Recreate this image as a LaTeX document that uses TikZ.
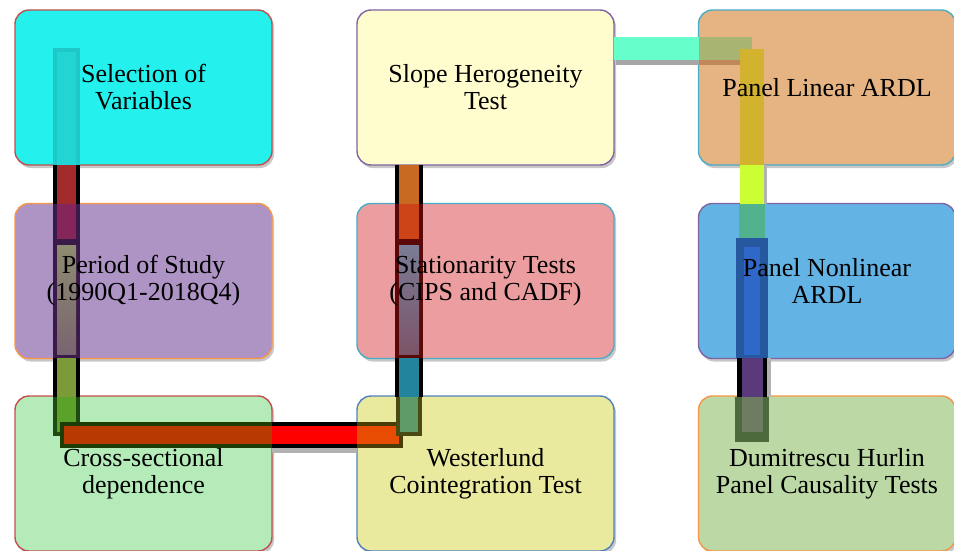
\documentclass[tikz,border=0pt]{standalone}
\usepackage{fontspec}
\setmainfont{Liberation Serif}
\usetikzlibrary{shadows}
% box fills and borders
\definecolor{fA}{HTML}{24F0EE}\definecolor{lA}{HTML}{C0504D}
\definecolor{fB}{HTML}{AE93C5}\definecolor{lB}{HTML}{F79646}
\definecolor{fC}{HTML}{B4EBB9}\definecolor{lC}{HTML}{C0504D}
\definecolor{fD}{HTML}{FFFDCD}\definecolor{lD}{HTML}{8064A2}
\definecolor{fE}{HTML}{EB9D9F}\definecolor{lE}{HTML}{4BACC6}
\definecolor{fF}{HTML}{E9EA9D}\definecolor{lF}{HTML}{4F81BD}
\definecolor{fG}{HTML}{E6B383}\definecolor{lG}{HTML}{4BACC6}
\definecolor{fH}{HTML}{63B3E5}\definecolor{lH}{HTML}{8064A2}
\definecolor{fI}{HTML}{BBD8A5}\definecolor{lI}{HTML}{F79646}
% bar colours
\definecolor{bCyanO}{HTML}{1EC8C8}\definecolor{bCyanI}{HTML}{22D4D4}
\definecolor{bRed}{HTML}{A22A2A}
\definecolor{bPurO}{HTML}{3A1A48}\definecolor{bMag}{HTML}{86255A}
\definecolor{bOlive}{HTML}{7C9A38}
\definecolor{bGrnO}{HTML}{1F4A12}\definecolor{bGrn}{HTML}{5BA22B}
\definecolor{bHO}{HTML}{1E3C05}\definecolor{bHI}{HTML}{B83A02}
\definecolor{bH2O}{HTML}{4A3C05}\definecolor{bH2I}{HTML}{E84C02}
\definecolor{bOra}{HTML}{C96A22}
\definecolor{bDRed}{HTML}{5A0808}\definecolor{bOrR}{HTML}{CC4418}
\definecolor{bTeal}{HTML}{23849E}
\definecolor{bSgO}{HTML}{4A4A12}\definecolor{bSg}{HTML}{5F9B68}
\definecolor{bAqua}{HTML}{66FFCC}\definecolor{bAquaIn}{HTML}{A8B472}
\definecolor{bGold}{HTML}{D2B22E}\definecolor{bLime}{HTML}{CCFF33}
\definecolor{bTG}{HTML}{52B28E}
\definecolor{bBluO}{HTML}{25589E}\definecolor{bBlu}{HTML}{3068C8}
\definecolor{bViol}{HTML}{5B3A7C}
\definecolor{bGgO}{HTML}{4C6A3C}\definecolor{bGg}{HTML}{6E7C62}
\definecolor{shBrown}{HTML}{C08858}
\begin{document}
\begin{tikzpicture}[x=1pt,y=-1pt,
  box/.style={draw, rounded corners=14pt, line width=1.4pt,
    minimum width=257pt, minimum height=155pt, inner sep=0pt,
    drop shadow={shadow xshift=2pt, shadow yshift=-3pt, opacity=0.22, fill=black}},
  lbl/.style={align=center, inner sep=0pt, font=\fontsize{26}{27}\selectfont}]
\useasboundingbox (0,0) rectangle (954,551);
% boxes
\node[box, fill=fA, draw=lA] (sel) at (143.5,87.5) {};
\node[box, fill=fB, draw=lB] (per) at (143.5,281) {};
\node[box, fill=fC, draw=lC] (csd) at (143.5,473.5) {};
\node[box, fill=fD, draw=lD] (slo) at (485.5,87.5) {};
\node[box, fill=fE, draw=lE] (sta) at (485.5,281) {};
\node[box, fill=fF, draw=lF] (wes) at (485.5,473.5) {};
\node[box, fill=fG, draw=lG] (pla) at (827,87.5) {};
\node[box, fill=fH, draw=lH] (pnl) at (827,281) {};
\node[box, fill=fI, draw=lI] (dhc) at (827,473.5) {};
% ---- left vertical bar
\fill[bCyanO] (53,48) rectangle (80,165);
\fill[bCyanI] (57,52) rectangle (76,165);
\fill[black] (53,165) rectangle (80,204);
\fill[bRed] (57,165) rectangle (76,204);
\fill[bPurO] (53,204) rectangle (80,358);
\fill[bMag] (57,204) rectangle (76,239);
\shade[top color={rgb,255:red,141;green,140;blue,112}, bottom color={rgb,255:red,122;green,100;blue,112}] (57,245) rectangle (76,354);
\fill[black] (53,358) rectangle (80,397);
\fill[bOlive] (57,358) rectangle (76,397);
\fill[bGrnO] (53,397) rectangle (80,436);
\fill[bGrn] (57,397) rectangle (76,432);
% ---- bottom horizontal bar
\fill[black!30] (272,446) rectangle (357,453);
\fill[black] (272,422) rectangle (357,448);
\fill[red] (272,426) rectangle (357,444);
\fill[bHO] (60,422) rectangle (272,448);
\fill[bHI] (64,426) rectangle (272,444);
\fill[bH2O] (357,422) rectangle (403,448);
\fill[bH2I] (357,426) rectangle (399,444);
% ---- middle vertical bar
\fill[black] (395,165) rectangle (423,204);
\fill[bOra] (399,165) rectangle (419,204);
\fill[bDRed] (395,204) rectangle (423,358);
\fill[bOrR] (399,204) rectangle (419,239);
\shade[top color={rgb,255:red,122;green,124;blue,150}, bottom color={rgb,255:red,124;green,84;blue,104}] (399,245) rectangle (419,354);
\fill[black] (395,358) rectangle (423,397);
\fill[bTeal] (399,358) rectangle (419,397);
\fill[bSgO] (396,397) rectangle (422,436);
\fill[bSg] (400,397) rectangle (418,432);
% ---- top horizontal bar
\fill[black!35] (616,60) rectangle (699,65);
\fill[shBrown] (699,60) rectangle (740,65);
\fill[bAqua] (614,37) rectangle (699,60);
\fill[bAquaIn] (699,37) rectangle (752,60);
% ---- right vertical bar
\fill[bGold] (740,49) rectangle (764,165);
\fill[black!30] (764,165) rectangle (767,204);
\fill[bLime] (740,165) rectangle (764,204);
\fill[bTG] (739,204) rectangle (765,239);
\fill[bBluO] (736,238) rectangle (768,358);
\fill[bBlu] (744,247) rectangle (760,355);
\fill[black!30] (767,358) rectangle (771,397);
\fill[black] (737,358) rectangle (767,397);
\fill[bViol] (742,358) rectangle (763,397);
\fill[bGgO] (735,397) rectangle (769,442);
\fill[bGg] (742,397) rectangle (763,432);
% labels
\node[lbl] (selT) at (sel.center) {Selection of\\Variables};
\node[lbl] (perT) at (per.center) {Period of Study\\(1990Q1-2018Q4)};
\node[lbl] (csdT) at (csd.center) {Cross-sectional\\dependence};
\node[lbl] (sloT) at (slo.center) {Slope Herogeneity\\Test};
\node[lbl] (staT) at (sta.center) {Stationarity Tests\\(CIPS and CADF)};
\node[lbl] (wesT) at (wes.center) {Westerlund\\Cointegration Test};
\node[lbl] (plaT) at (pla.center) {Panel Linear ARDL};
\node[lbl] (pnlT) at (pnl.center) {Panel Nonlinear\\ARDL};
\node[lbl] (dhcT) at (dhc.center) {Dumitrescu Hurlin\\Panel Causality Tests};
\end{tikzpicture}
\end{document}
